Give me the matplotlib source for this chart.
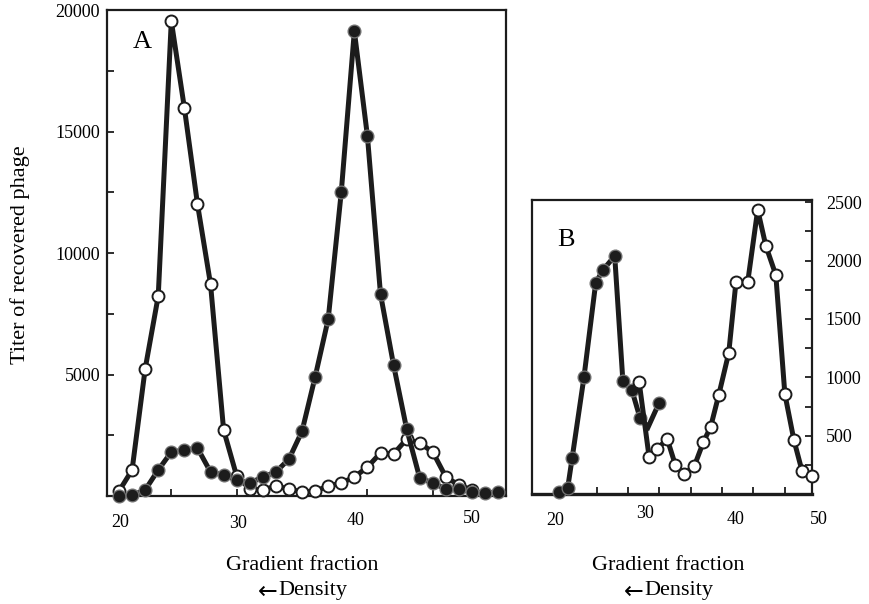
import matplotlib
matplotlib.use("Agg")
import matplotlib.pyplot as plt
from matplotlib.ticker import FixedLocator, MultipleLocator, NullFormatter

plt.rcParams['font.family'] = ['Liberation Serif', 'DejaVu Serif']

# Panel A: gradient fractions 21..50
a_closed_x = list(range(21, 51))
a_closed_y = [0, 30, 250, 1070, 1810, 1890, 1975, 990, 860, 660,
              535, 780, 990, 1520, 2670, 4900, 7280, 12510, 19130, 14810,
              8310, 5390, 2760, 740, 535, 290, 290, 165, 120, 165]
a_open_x = list(range(21, 49))
a_open_y = [200, 1070, 5230, 8230, 19550, 15970, 12020, 8720, 2720, 820,
            290, 250, 410, 290, 165, 200, 410, 535, 780, 1190,
            1770, 1730, 2340, 2180, 1810, 780, 450, 250]
a_tick_labels = ["20", "30", "40", "50"]
a_label_x = [21.1, 30.1, 39.1, 48.0]

# Panel B
b_closed_x = [20.4, 21.4, 21.9, 23.2, 24.5, 25.3, 26.6, 27.5, 28.5, 29.4, 30.3, 31.5]
b_closed_y = [15, 50, 310, 1000, 1810, 1920, 2040, 970, 890, 650, 575, 780]
b_open_x = [29.3, 30.4, 31.3, 32.4, 33.3, 34.3, 35.4, 36.4, 37.2, 38.1,
            39.2, 40.0, 41.3, 42.4, 43.3, 44.4, 45.4, 46.4, 47.3, 48.4]
b_open_y = [960, 317, 386, 472, 249, 172, 240, 446, 575, 850,
            1209, 1818, 1818, 2436, 2127, 1878, 858, 463, 197, 154]
b_tick_labels = ["20", "30", "40", "50"]
b_label_x = [20.0, 30.0, 40.0, 49.2]

ink = "#1c1c1c"
line_kw = dict(color=ink, lw=3.6, clip_on=False, solid_joinstyle="miter")
open_kw = dict(marker="o", ms=8.6, mfc="white", mec=ink, mew=1.4)
closed_kw = dict(marker="o", ms=9.2, mfc=ink, mec="0.45", mew=0.9)

fig = plt.figure(figsize=(8.69, 6.04), dpi=100)

# ---- panel A ----
axA = fig.add_axes([0.1231, 0.1788, 0.4592, 0.8046])
axA.plot(a_open_x, a_open_y, **line_kw, **open_kw, zorder=3)
axA.plot(a_closed_x, a_closed_y, **line_kw, **closed_kw, zorder=4)
axA.set_xlim(20.08, 50.6)
axA.set_ylim(0, 20000)
axA.xaxis.set_major_locator(FixedLocator([25, 30, 35, 40, 45]))
axA.xaxis.set_major_formatter(NullFormatter())
axA.set_yticks([5000, 10000, 15000, 20000])
axA.yaxis.set_minor_locator(MultipleLocator(2500))
axA.tick_params(axis="both", which="both", direction="in", length=5, width=1.3, color=ink)
axA.tick_params(axis="y", labelsize=13, pad=5)
for s in axA.spines.values():
    s.set_linewidth(1.6)
    s.set_color(ink)
for lx, lt, dy in zip(a_label_x, a_tick_labels, [-0.0535, -0.0576, -0.0514, -0.0473]):
    axA.text(lx, dy, lt, transform=axA.get_xaxis_transform(), ha="center", va="center", fontsize=13)
axA.text(0.065, 0.935, "A", transform=axA.transAxes, fontsize=19, va="center", ha="left")

# ---- panel B ----
axB = fig.add_axes([0.6122, 0.1821, 0.3222, 0.4868])
mk = list(range(len(b_closed_x)))
mk.remove(10)
axB.plot(b_closed_x, b_closed_y, **line_kw, **closed_kw, markevery=mk, zorder=3)
axB.plot(b_open_x, b_open_y, **line_kw, **open_kw, zorder=4)
axB.set_xlim(17.46, 48.4)
axB.set_ylim(0, 2520)
axB.xaxis.set_major_locator(FixedLocator([24.6, 28.1, 31.5, 35.0, 38.5, 41.9, 45.4]))
axB.xaxis.set_major_formatter(NullFormatter())
axB.yaxis.tick_right()
axB.set_yticks([500, 1000, 1500, 2000, 2500])
axB.yaxis.set_minor_locator(MultipleLocator(250))
axB.tick_params(axis="both", which="both", direction="in", length=5, width=1.3, color=ink)
axB.tick_params(axis="y", labelsize=13, pad=10)
for s in axB.spines.values():
    s.set_linewidth(1.6)
    s.set_color(ink)
axB.spines["bottom"].set_linewidth(2.4)
for lx, lt, dy in zip(b_label_x, b_tick_labels, [-0.09, -0.065, -0.085, -0.085]):
    axB.text(lx, dy, lt, transform=axB.get_xaxis_transform(), ha="center", va="center", fontsize=13)
axB.text(0.09, 0.865, "B", transform=axB.transAxes, fontsize=19, va="center", ha="left")

# axis labels
fig.text(20 / 869, 1 - 255 / 604, "Titer of recovered phage", rotation=90,
         ha="center", va="center", fontsize=16)
for cx, split in [(302, 278), (668, 644)]:
    fig.text(cx / 869, 1 - 565 / 604, "Gradient fraction", ha="center", va="center", fontsize=16)
    fig.text(split / 869, 1 - 592 / 604, "\u2190", ha="right", va="center",
             fontsize=17, family="DejaVu Sans")
    fig.text(split / 869, 1 - 591 / 604, "Density", ha="left", va="center", fontsize=16)

fig.savefig("out.png", dpi=100)
